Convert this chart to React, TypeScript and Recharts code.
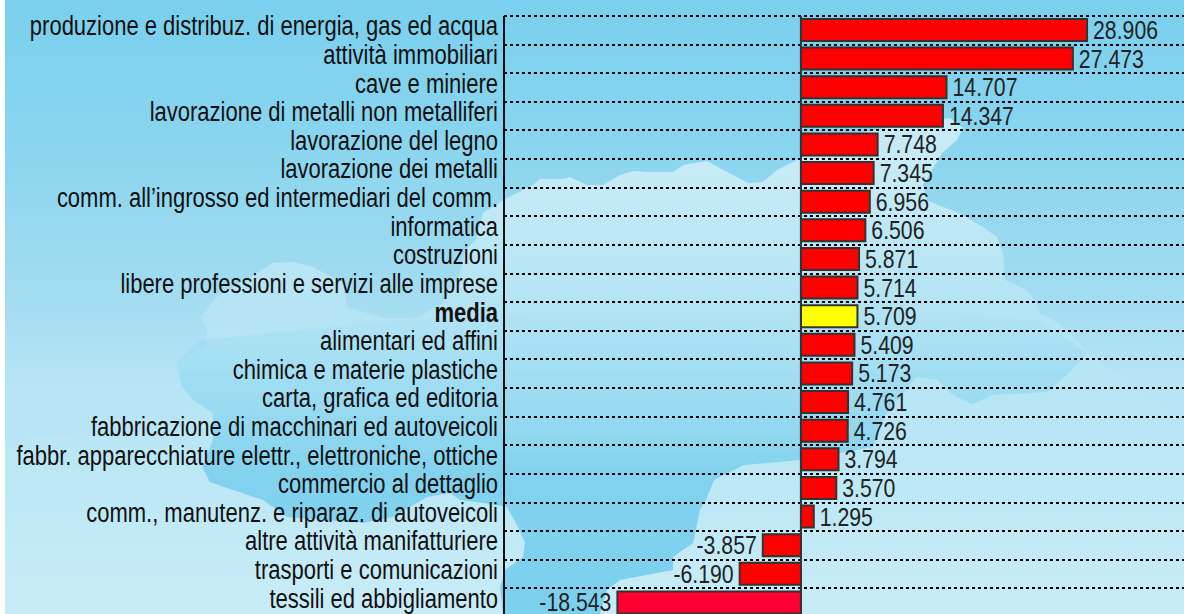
import { BarChart, Bar, XAxis, YAxis, CartesianGrid, Cell, LabelList, ReferenceLine } from "recharts";

const categories = [
  "produzione e distribuz. di energia, gas ed acqua",
  "attività immobiliari",
  "cave e miniere",
  "lavorazione di metalli non metalliferi",
  "lavorazione del legno",
  "lavorazione dei metalli",
  "comm. all’ingrosso ed intermediari del comm.",
  "informatica",
  "costruzioni",
  "libere professioni e servizi alle imprese",
  "media",
  "alimentari ed affini",
  "chimica e materie plastiche",
  "carta, grafica ed editoria",
  "fabbricazione di macchinari ed autoveicoli",
  "fabbr. apparecchiature elettr., elettroniche, ottiche",
  "commercio al dettaglio",
  "comm., manutenz. e riparaz. di autoveicoli",
  "altre attività manifatturiere",
  "trasporti e comunicazioni",
  "tessili ed abbigliamento",
];
const values = [28906, 27473, 14707, 14347, 7748, 7345, 6956, 6506, 5871, 5714, 5709, 5409, 5173, 4761, 4726, 3794, 3570, 1295, -3857, -6190, -18543];

const data = categories.map((name, i) => ({ name, value: values[i] }));
const FONT = "'Liberation Sans', Arial, sans-serif";

// backdrop map, not data
const seaTop = "5,0 1184,0 1184,425 1120,375 1087,353 1077,340 1057,322 1040,313 1037,305 1027,290 1005,280 1003,253 997,237 983,227 957,212 938,205 927,200 923,185 932,170 942,153 957,140 963,128 950,118 900,125 860,133 830,145 797,160 777,170 763,182 748,183 727,172 707,161 683,165 673,172 650,172 633,171 620,175 603,185 587,185 570,177 563,179 540,179 533,185 505,199 483,213 476,240 465,250 460,273 443,303 417,318 383,318 347,307 343,283 313,267 293,262 273,263 217,297 200,317 207,328 207,345 177,363 182,387 193,400 180,425 5,440";
const seaBand = "177,363 182,387 193,400 213,413 213,440 202,467 210,482 233,490 263,500 287,517 363,523 393,517 427,497 450,493 460,500 483,503 507,507 518,527 525,543 523,557 505,570 500,587 503,614 600,614 607,590 620,580 673,570 673,557 693,543 700,510 706,500 714,480 744,465 800,460 873,447 885,415 917,377 937,380 953,395 972,404 993,395 1047,392 1067,375 1087,353 1040,320 800,300 400,320 200,340";

const fmt = (v: number) => (v < 0 ? "-" : "") + Math.abs(v).toLocaleString("de-DE");

function CatTick({ y, payload }: any) {
  return (
    <text transform={`translate(498,${y + 5}) scale(0.815,1)`} textAnchor="end" fontFamily={FONT} fontSize={27} fill="#111"
      fontWeight={payload.value === "media" ? "bold" : "normal"}>
      {payload.value}
    </text>
  );
}

function ValueLabel({ x, y, width, height, value }: any) {
  const neg = value < 0;
  const px = neg ? Math.min(x, x + width) - 6 : x + width + 6;
  return (
    <text transform={`translate(${px},${y + height / 2 + 9}) scale(0.85,1)`} textAnchor={neg ? "end" : "start"}
      fontFamily={FONT} fontSize={25} fill="#222">
      {fmt(value)}
    </text>
  );
}

function Backdrop() {
  return (
    <svg width={1179} height={614} viewBox="5 0 1179 614" style={{ position: "absolute", left: 5, top: 0 }}>
      <defs>
        <linearGradient id="land" gradientUnits="userSpaceOnUse" x1="0" y1="170" x2="0" y2="614">
          <stop offset="0" stopColor="#c6ebf7" />
          <stop offset="0.3" stopColor="#b4e4f4" />
          <stop offset="0.57" stopColor="#b8e6f5" />
          <stop offset="1" stopColor="#c8ecf7" />
        </linearGradient>
        <linearGradient id="sea" gradientUnits="userSpaceOnUse" x1="0" y1="0" x2="0" y2="425">
          <stop offset="0" stopColor="#7ad0ee" />
          <stop offset="0.35" stopColor="#8ad5ef" />
          <stop offset="0.7" stopColor="#a3dcf0" />
          <stop offset="0.92" stopColor="#b7e5f5" />
        </linearGradient>
        <linearGradient id="band" gradientUnits="userSpaceOnUse" x1="0" y1="300" x2="0" y2="614">
          <stop offset="0" stopColor="#7fd1ee" stopOpacity={0} />
          <stop offset="0.32" stopColor="#7fd1ee" stopOpacity={0.5} />
          <stop offset="0.55" stopColor="#7fd1ee" stopOpacity={0.95} />
          <stop offset="1" stopColor="#7bd0ee" stopOpacity={1} />
        </linearGradient>
      </defs>
      <rect x={5} y={0} width={1179} height={614} fill="url(#land)" />
      <polygon points={seaTop} fill="url(#sea)" />
      <polygon points={seaBand} fill="url(#band)" />
    </svg>
  );
}

export default function App() {
  return (
    <div style={{ position: "absolute", left: 0, top: 0, width: 1184, height: 614, overflow: "hidden", background: "#fff" }}>
      <Backdrop />
      <div style={{ position: "absolute", left: 0, top: 0 }}>
        <BarChart width={1184} height={620} data={data} layout="vertical" barSize={22}
          margin={{ top: 16, right: 0, bottom: 3, left: 0 }}>
          <CartesianGrid vertical={false} stroke="#000" strokeWidth={2} strokeDasharray="3 3"
            horizontalCoordinatesGenerator={({ offset }: any) =>
              categories.map((_, i) => Math.round(offset.top + (i * offset.height) / categories.length))} />
          <XAxis type="number" orientation="top" height={0} tick={false} tickLine={false} stroke="#34606f" strokeWidth={2} domain={[-30000, 38700]} />
          <YAxis type="category" dataKey="name" interval={0} width={504} stroke="#111" strokeWidth={2} tickLine={false} tick={<CatTick />} />
          <ReferenceLine x={0} stroke="#333" strokeWidth={2} />
          <Bar dataKey="value" stroke="#333" strokeWidth={2} isAnimationActive={false}>
            {data.map((d, i) => (
              <Cell key={d.name} fill={d.name === "media" ? "#ffff00" : i === 20 ? "#ff0030" : "#ff0000"} />
            ))}
            <LabelList dataKey="value" content={<ValueLabel />} />
          </Bar>
        </BarChart>
      </div>
    </div>
  );
}
